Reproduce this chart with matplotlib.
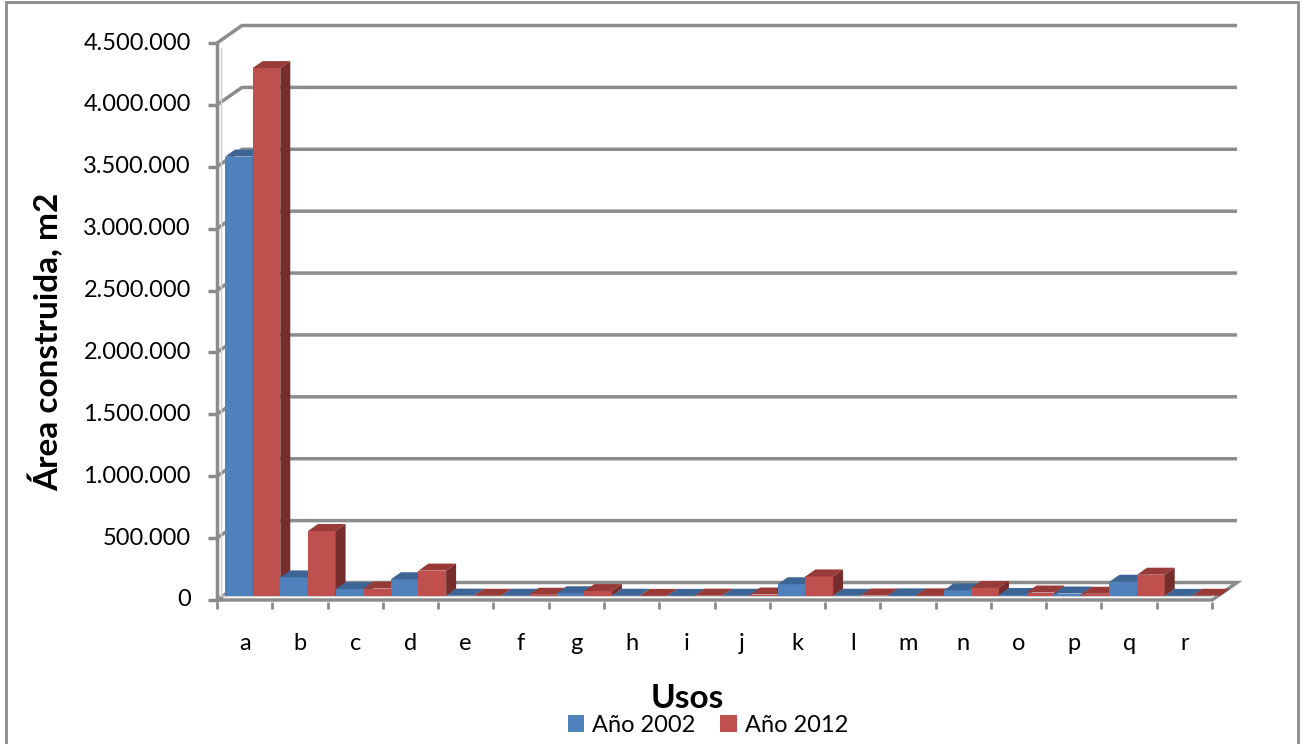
import numpy as np
import matplotlib.pyplot as plt
from matplotlib.patches import Polygon, Rectangle, Patch

plt.rcParams['font.family'] = ['Lato', 'DejaVu Sans']

# area construida por uso (m2)
usos = list("abcdefghijklmnopqr")
area_2002 = [3550000, 150000, 55000, 135000, 3000, 2000, 22000, 2000, 1000,
             2000, 95000, 2000, 5000, 45000, 8000, 20000, 115000, 1000]
area_2012 = [4265000, 525000, 60000, 205000, 2000, 10000, 40000, 1000, 3000,
             12000, 158000, 4000, 5000, 65000, 28000, 18000, 172000, 2000]
y_ticks = np.arange(0, 4500001, 500000)
series_names = ["Año 2002", "Año 2012"]

W, H = 1303, 744
fig = plt.figure(figsize=(W / 100, H / 100), dpi=100)
ax = fig.add_axes([217 / W, (H - 600) / H, 995 / W, 557 / H])
n = len(usos)
ax.set_xlim(-0.5, n - 0.5)
ax.set_ylim(0, y_ticks[-1])
ax.axis('off')

# pixel -> data units
PX = n / 995.0
PY = y_ticks[-1] / 557.0

grid_col = '#8C8C8C'
x0, x1 = -0.5, n - 0.5
wall_dx, wall_dy = 25 * PX, 17.5 * PY


def seg(xs, ys, **kw):
    kw.setdefault('color', grid_col)
    kw.setdefault('lw', 2.5)
    ax.plot(xs, ys, clip_on=False, solid_capstyle='butt', **kw)


# floor slab
floor = Polygon([(x0, 0), (x1, 0), (x1 + wall_dx, wall_dy), (x0 + wall_dx, wall_dy)],
                closed=True, facecolor='white', edgecolor=grid_col, lw=2.5,
                clip_on=False, zorder=1)
ax.add_patch(floor)
seg([x0, x1], [4 * PY, 4 * PY], color='#C8C8C8', lw=1.2, zorder=1)

# back wall gridlines
for v in y_ticks[1:]:
    seg([x0, x0 + wall_dx, x1 + wall_dx], [v, v + wall_dy, v + wall_dy], zorder=1)

# left wall / value axis
seg([x0, x0], [-2 * PY, y_ticks[-1]], zorder=2)
seg([x0 + 4 * PX, x0 + 4 * PX], [4 * PY, y_ticks[-1] - 4 * PY], color='#D0D0D0', lw=1, zorder=2)
for v in y_ticks:
    seg([x0 - 9 * PX, x0], [v, v], zorder=2)
    ax.text(x0 - 26 * PX, v, f"{v:,}".replace(',', '.'), ha='right', va='center',
            fontsize=17, color='black', clip_on=False)

# category ticks and labels
for k in range(n + 1):
    seg([x0 + k, x0 + k], [-2 * PY, -9 * PY], lw=2, zorder=2)
for i, u in enumerate(usos):
    ax.text(i, -43 * PY, u, ha='center', va='center', fontsize=17, color='black',
            clip_on=False)

# 3d columns
bar_off_x, bar_off_y = 8 * PX, 4 * PY
dep_x, dep_y = 10 * PX, 7 * PY
colors = [('#4F81BD', '#3C6596', '#2F5078'), ('#C0504D', '#983B38', '#772D2B')]
bw = 0.5

for i in range(n):
    for s, vals in enumerate([area_2002, area_2012]):
        v = vals[i]
        front, top, side = colors[s]
        left = i - 0.5 + s * bw + bar_off_x
        right = left + bw
        b = bar_off_y
        t = b + v
        ax.bar(left, v, width=bw, bottom=b, align='edge', color=front, lw=0,
               clip_on=False, zorder=3)
        ax.add_patch(Polygon([(left, t), (right, t), (right + dep_x, t + dep_y),
                              (left + dep_x, t + dep_y)], closed=True, facecolor=top,
                             lw=0, clip_on=False, zorder=3))
        ax.add_patch(Polygon([(right, b), (right + dep_x, b + dep_y),
                              (right + dep_x, t + dep_y), (right, t)], closed=True,
                             facecolor=side, lw=0, clip_on=False, zorder=3))

# titles
fig.text(46 / W, 1 - 342 / H, "Área construida, m2", rotation=90, ha='center', va='center',
         fontsize=24, fontweight='bold')
fig.text(687 / W, 1 - 698 / H, "Usos", ha='center', va='center', fontsize=24,
         fontweight='bold')

handles = [Patch(facecolor=colors[0][0]), Patch(facecolor=colors[1][0])]
fig.legend(handles, series_names, loc='center', bbox_to_anchor=(708 / W, 1 - 725 / H),
           ncol=2, frameon=False, fontsize=17, handlelength=0.7, handleheight=0.7,
           handletextpad=0.35, columnspacing=1.05, borderpad=0)

# chart border
fig.add_artist(Rectangle((6 / W, -0.02), 1292 / W, 1.0 - 2 / H + 0.02,
                         transform=fig.transFigure, fill=False, edgecolor='#8C8C8C', lw=2))

fig.savefig('out.png', dpi=100)
